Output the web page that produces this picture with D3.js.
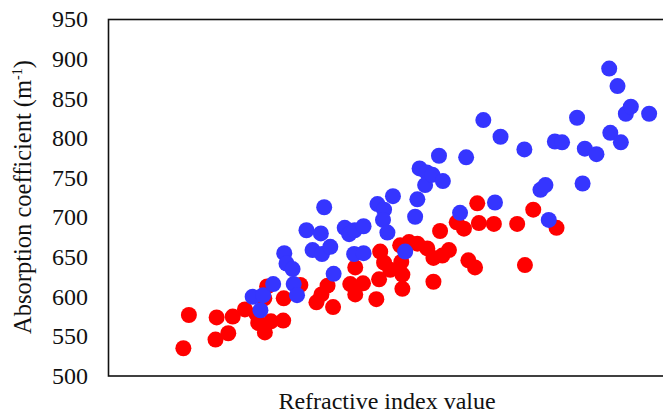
<!DOCTYPE html>
<html>
<head>
<meta charset="utf-8">
<script src="https://cdn.jsdelivr.net/npm/d3@7"></script>
<style>
  html, body { margin: 0; padding: 0; background: #fff; }
  svg { display: block; }
</style>
</head>
<body>
<svg id="chart" width="663" height="414"></svg>
<script>
// Refractive index (arbitrary units, axis unlabelled) and absorption coefficient (m^-1)
const redX = [13.5,14.5,19.3,21.6,19.5,22.4,24.6,26.7,27.0,28.2,29.3,31.5,28.1,28.6,31.6,34.6,37.5,38.4,39.5,40.5,43.6,44.5,44.5,45.9,48.3,48.8,49.0,49.7,50.8,52.6,52.8,53.0,53.0,54.2,55.7,57.5,58.6,58.6,59.8,60.2,61.4,62.8,64.1,64.9,66.1,66.5,66.8,69.5,73.7,75.1,76.6,80.8];
const redY = [535,577,546,554,574,575,584,578,567,555,569,570,598,613,598,615,593,603,614,587,616,603,637,617,597,622,657,643,634,665,644,628,610,669,667,661,649,619,683,652,659,694,686,646,637,718,693,692,692,640,710,687];
const blueX = [26.0,27.4,27.9,29.7,31.7,32.1,33.2,33.4,34.0,35.7,36.8,38.3,38.5,38.9,40.0,40.6,42.6,43.4,44.4,46.0,44.3,46.0,48.5,49.7,49.5,50.3,51.3,53.5,55.3,55.7,56.1,57.4,57.1,58.4,60.3,59.6,63.4,64.5,67.6,70.7,69.7,75.0,77.9,78.8,79.4,80.5,81.8,84.5,85.5,85.9,88.0,90.3,91.8,90.5,92.4,93.3,94.2,97.5];
const blueY = [600,583,602,616,655,642,635,616,602,684,659,680,654,713,663,629,687,679,684,689,654,655,717,710,697,681,727,657,701,723,762,757,741,754,746,778,706,776,823,802,719,786,735,741,697,796,795,826,743,787,780,888,866,807,795,831,840,831];
const yTicks = [500,550,600,650,700,750,800,850,900,950];
const xTitle = "Refractive index value";
const yTitle = "Absorption coefficient (m";

const svg = d3.select("#chart");
const padLeft = 108.5, padTop = 19.5, padBottom = 376, padRight = 663;
const font = "'Liberation Serif', 'Times New Roman', serif";

const x = d3.scaleLinear().domain([0, 100]).range([padLeft, padRight]);
const y = d3.scaleLinear().domain([500, 950]).range([padBottom, padTop]);

// Frame
svg.append("rect")
  .attr("x", padLeft).attr("y", padTop)
  .attr("width", 700 - padLeft).attr("height", padBottom - padTop)
  .attr("fill", "none").attr("stroke", "#111").attr("stroke-width", 1.6);

// Y tick labels
svg.append("g").selectAll("text").data(yTicks).join("text")
  .attr("x", 88).attr("y", d => y(d))
  .attr("text-anchor", "end")
  .attr("dy", "0.33em")
  .attr("font-family", font).attr("font-size", 24).attr("fill", "#111")
  .text(d => d);

// Points
const red = redX.map((v, i) => ({ x: v, y: redY[i] }));
const blue = blueX.map((v, i) => ({ x: v, y: blueY[i] }));
svg.append("g").selectAll("circle").data(red).join("circle")
  .attr("cx", d => x(d.x)).attr("cy", d => y(d.y)).attr("r", 8)
  .attr("fill", "#ff0000");
svg.append("g").selectAll("circle").data(blue).join("circle")
  .attr("cx", d => x(d.x)).attr("cy", d => y(d.y)).attr("r", 8)
  .attr("fill", "#3535ff");

// X title
svg.append("text")
  .attr("x", 387).attr("y", 409)
  .attr("text-anchor", "middle")
  .attr("font-family", font).attr("font-size", 24).attr("fill", "#111")
  .text(xTitle);

// Y title
const yt = svg.append("text")
  .attr("transform", `translate(31,197) rotate(-90)`)
  .attr("text-anchor", "middle")
  .attr("font-family", font).attr("font-size", 24.5).attr("fill", "#111");
yt.append("tspan").text(yTitle);
yt.append("tspan").attr("font-size", 14).attr("dy", -9).text("-1");
yt.append("tspan").attr("dy", 9).text(")");
</script>
</body>
</html>
